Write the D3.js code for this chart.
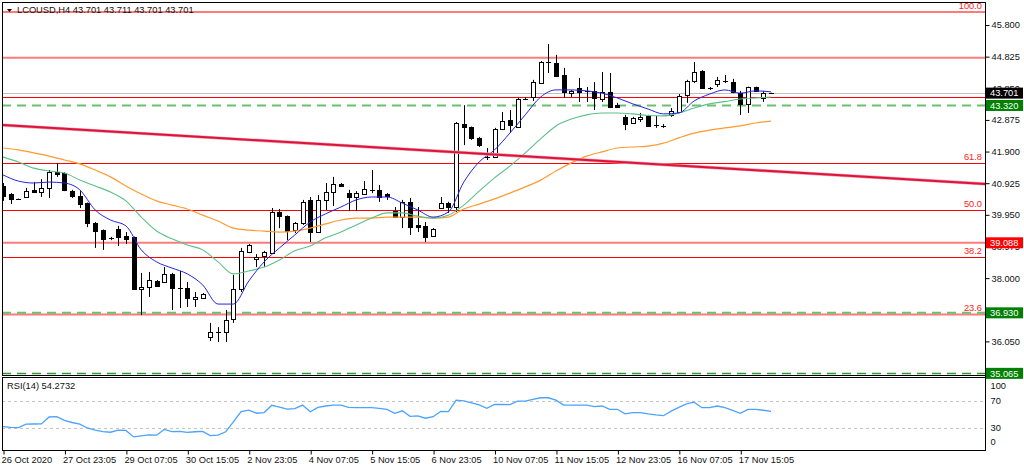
<!DOCTYPE html>
<html><head><meta charset="utf-8">
<script src="https://cdn.jsdelivr.net/npm/d3@7"></script>
<style>
body{margin:0;background:#fff;}
text{font-family:"Liberation Sans",Arial,sans-serif;font-size:9.3px;}
</style>
</head><body><svg id="c" width="1024" height="470"></svg>
<script>
// ---------------- DATA ----------------
const symbolTitle = "LCOUSD,H4  43.701 43.711 43.701 43.701";
const rsiTitle = "RSI(14) 54.2732";
const timeLabels = ["26 Oct 2020","27 Oct 23:05","29 Oct 07:05","30 Oct 15:05","2 Nov 23:05","4 Nov 07:05","5 Nov 15:05","6 Nov 23:05","10 Nov 07:05","11 Nov 15:05","12 Nov 23:05","16 Nov 07:05","17 Nov 15:05"];
const timeLabelBars = [0,8,16,24,32,40,48,56,64,72,80,88,96];
const priceTicks = [45.800,44.825,43.850,42.875,41.900,40.925,39.950,38.975,38.000,36.050];
const rsiTicks = [100,70,30,0];
const rsiLevels = [70,30];

const open = [
40.84,40.59,40.44,40.50,40.72,40.65,40.78,41.27,41.24,40.68,
40.53,40.31,39.70,39.48,39.24,39.51,39.30,39.27,37.66,37.73,
37.91,37.88,38.13,37.69,37.69,37.36,37.39,36.18,36.34,36.34,
36.74,37.66,38.80,38.59,38.68,38.77,40.04,39.91,39.48,39.70,
40.41,39.42,40.41,40.65,40.90,40.62,40.50,40.59,40.72,40.72,
40.59,40.07,39.88,40.35,39.64,39.61,39.30,40.16,40.31,40.19,
42.75,42.66,42.32,41.73,41.73,42.60,42.87,42.66,43.52,43.58,
44.01,44.66,44.63,44.26,43.70,43.86,43.77,43.77,43.52,43.74,
43.33,42.97,42.78,42.90,43.00,42.72,42.69,43.03,43.12,43.64,
44.07,44.38,43.86,43.98,44.07,44.04,43.70,43.37,43.89,43.55,
43.701];
const high = [
40.93,40.62,40.45,40.78,40.96,41.05,41.33,41.55,41.26,40.72,
40.68,40.33,39.73,39.50,39.27,39.61,39.42,39.28,38.16,38.19,
37.94,38.34,38.16,38.22,37.88,37.57,37.54,36.62,36.49,37.02,
38.10,38.93,39.05,38.74,38.84,40.16,40.13,39.93,39.73,40.41,
40.50,40.56,40.93,41.12,40.93,40.72,40.68,40.99,41.33,40.87,
40.62,40.19,40.41,40.47,40.19,39.73,39.54,40.50,40.35,42.81,
43.33,42.67,42.35,42.01,42.63,43.12,43.18,43.55,43.58,44.11,
44.69,45.21,44.88,44.48,43.80,44.17,43.89,44.04,44.35,44.32,
43.40,43.03,42.97,43.09,43.03,43.00,42.75,43.24,43.67,44.11,
44.66,44.41,43.89,44.20,44.26,44.14,43.77,43.90,43.90,43.77,
43.711];
const low = [
40.38,40.28,40.42,40.48,40.63,40.50,40.47,41.12,40.68,40.47,
40.16,39.57,38.93,38.87,39.17,38.99,39.05,37.64,36.86,37.42,
37.73,37.85,37.02,37.08,37.11,37.11,37.36,36.06,36.03,36.03,
36.62,37.57,38.77,38.34,38.34,38.76,39.54,39.17,39.39,39.64,
39.11,39.39,40.10,40.22,40.81,40.07,40.07,40.56,40.62,40.35,
40.41,39.85,39.54,39.33,39.42,39.11,39.27,40.13,40.01,40.04,
42.10,42.26,42.04,41.64,41.70,42.56,42.47,42.63,43.49,43.46,
43.99,44.32,44.20,43.55,43.58,43.43,43.43,43.18,43.43,43.24,
43.26,42.56,42.75,42.81,42.66,42.63,42.63,42.97,43.09,43.40,
44.01,43.83,43.80,43.89,44.01,43.70,43.03,43.09,43.74,43.43,
43.701];
const close = [
40.53,40.44,40.44,40.68,40.65,40.78,41.27,41.21,40.72,40.53,
40.28,39.70,39.45,39.21,39.22,39.27,39.21,37.66,37.73,37.94,
37.76,38.13,37.69,37.70,37.39,37.42,37.51,36.34,36.35,36.71,
37.66,38.84,39.02,38.65,38.80,40.04,39.91,39.45,39.70,40.35,
39.42,40.41,40.65,40.90,40.84,40.50,40.62,40.75,40.70,40.50,
40.53,39.88,40.35,39.57,39.57,39.27,39.51,40.31,40.19,42.78,
42.66,42.32,42.10,41.74,42.60,42.84,42.72,43.52,43.53,44.04,
44.66,44.65,44.23,43.74,43.77,43.74,43.76,43.55,43.74,43.27,
43.27,42.75,42.93,42.97,42.69,42.71,42.69,43.15,43.61,44.07,
44.35,43.86,43.85,44.11,44.07,43.74,43.37,43.89,43.77,43.70,
43.701];

// moving averages, read every 2 bars (bars 0,2,...,100)
const maBars = d3.range(0,101,2);
const maFast = [41.18,40.99,40.93,40.96,40.93,40.72,40.10,39.79,39.61,38.87,38.50,38.31,38.13,37.79,37.20,37.20,37.91,38.50,38.93,39.33,39.73,39.98,40.19,40.41,40.50,40.50,40.31,40.10,39.88,40.04,40.96,41.58,41.95,42.47,43.03,43.58,43.80,43.80,43.77,43.70,43.55,43.37,43.21,43.06,43.09,43.46,43.67,43.80,43.70,43.77,43.74];
const maMid  = [41.73,41.58,41.39,41.30,41.24,41.02,40.84,40.65,40.38,39.88,39.45,39.21,39.02,38.87,38.50,38.13,38.22,38.34,38.56,38.84,38.99,39.24,39.42,39.64,39.85,40.01,40.01,39.91,39.85,39.94,40.25,40.68,41.09,41.45,41.86,42.29,42.69,42.90,43.03,43.09,43.09,43.06,43.01,43.00,43.09,43.24,43.37,43.44,43.52,43.55,43.58];
const maSlow = [42.01,41.95,41.86,41.76,41.64,41.52,41.33,41.12,40.84,40.59,40.38,40.25,40.13,39.94,39.76,39.54,39.48,39.45,39.42,39.45,39.54,39.67,39.79,39.85,39.85,39.88,39.88,39.88,39.85,39.88,40.13,40.28,40.44,40.62,40.81,41.02,41.30,41.55,41.76,41.89,42.01,42.04,42.07,42.16,42.32,42.47,42.56,42.63,42.69,42.78,42.84];

const rsi = [32,31,30.5,35.5,35.8,36,46,46.4,41,38,
35.5,30,27,24.8,23.8,27,26.5,17,18.5,20,
19.5,28,24.8,25,23.5,24.5,25,18.8,19.5,24.5,
39,54,56,51.5,52.5,63,60.5,57.6,58.3,63.4,
53.7,60,62,63.4,63.4,60,59.5,59.5,59.5,58.5,
57,51.3,55,47,47.6,44.2,46.4,54,53.7,70.5,
69.5,66.5,63.5,58.6,64.2,64.4,64,69.2,69.2,71.5,
74,74,70.5,63.4,63.4,63.4,63.4,61,62,57.2,
57.2,50.5,52.3,52.3,50.5,49,47.9,54.5,60,65,
67.5,59.5,59.5,62,59.5,55.5,51.3,57.2,57.2,55.8,
54.27];

// trend line (bar index, price)
const trendBars = [0,128];
const trendPrices = [42.716,40.90];

// Fibonacci retracement
const fibHigh = 46.20, fibLow = 34.00;
const fibLevels = [100.0,61.8,50.0,38.2,23.6];
// horizontal levels
const resistanceLevels = [46.20,44.79,39.088,36.88];
const thinRedLevels = [43.57];
const greenDashLevels = [43.320,36.930];
const greenDashDarkLevels = [35.065];
const bidPrice = 43.701;
const priceTags = [
  {v:43.701, label:"43.701", color:"#000000"},
  {v:43.320, label:"43.320", color:"#008000"},
  {v:39.088, label:"39.088", color:"#ff0000"},
  {v:36.930, label:"36.930", color:"#008000"},
  {v:35.065, label:"35.065", color:"#008000"}
];

// ---------------- LAYOUT ----------------
const svg = d3.select("#c");
const PL=2, PR=985, PT=2, PB=375, RT=377, RB=450;
const x = d3.scaleLinear().domain([0,100]).range([3,771]);
const y = d3.scaleLinear().domain([35.065,45.8]).range([373.35,25]);
const yr = d3.scaleLinear().domain([0,100]).range([448.6,379.9]);

svg.append("rect").attr("width",1024).attr("height",470).attr("fill","#fff");

const defs = svg.append("defs");
defs.append("clipPath").attr("id","mainclip").append("rect")
  .attr("x",PL+1).attr("y",PT+1).attr("width",PR-PL-1).attr("height",PB-PT-1);
defs.append("clipPath").attr("id","rsiclip").append("rect")
  .attr("x",PL+1).attr("y",RT+1).attr("width",PR-PL-1).attr("height",RB-RT-1);

const main = svg.append("g").attr("clip-path","url(#mainclip)");
const crisp = v => Math.round(v)+0.5;

// horizontal levels
main.selectAll(".bid").data([bidPrice]).join("line")
  .attr("x1",PL).attr("x2",PR).attr("y1",d=>crisp(y(d))).attr("y2",d=>crisp(y(d)))
  .attr("stroke","#c0c0c0").attr("stroke-width",1);
main.selectAll(".res").data(resistanceLevels).join("line")
  .attr("x1",PL).attr("x2",PR).attr("y1",d=>y(d)).attr("y2",d=>y(d))
  .attr("stroke","#ff7b7b").attr("stroke-width",2);
main.selectAll(".thin").data(thinRedLevels).join("line")
  .attr("x1",PL).attr("x2",PR).attr("y1",d=>crisp(y(d))).attr("y2",d=>crisp(y(d)))
  .attr("stroke","#ff0000").attr("stroke-width",1);
const fibPrice = r => fibLow + r/100*(fibHigh-fibLow);
main.selectAll(".fib").data(fibLevels.filter(r=>r>24&&r<99)).join("line")
  .attr("x1",PL).attr("x2",PR).attr("y1",d=>crisp(y(fibPrice(d)))).attr("y2",d=>crisp(y(fibPrice(d))))
  .attr("stroke","#ff0000").attr("stroke-width",1);
main.selectAll(".gd").data(greenDashLevels).join("line")
  .attr("x1",PL).attr("x2",PR).attr("y1",d=>y(d)).attr("y2",d=>y(d))
  .attr("stroke","#6cbf6c").attr("stroke-width",2).attr("stroke-dasharray","9,6");
main.selectAll(".gdd").data(greenDashDarkLevels).join("line")
  .attr("x1",PL).attr("x2",PR).attr("y1",d=>crisp(y(d))).attr("y2",d=>crisp(y(d)))
  .attr("stroke","#2e9a2e").attr("stroke-width",1.3).attr("stroke-dasharray","9,6");
main.selectAll(".fibt").data(fibLevels).join("text")
  .attr("x",982).attr("y",d=>y(fibPrice(d))-3).attr("text-anchor","end")
  .attr("fill","#ff2020").text(d=>d.toFixed(1));

// candles
const bars = d3.range(open.length);
const cg = main.append("g");
bars.forEach(i=>{
  const cx = crisp(x(i));
  cg.append("line").attr("x1",cx).attr("x2",cx)
    .attr("y1",y(high[i])).attr("y2",y(low[i])).attr("stroke","#000").attr("stroke-width",1);
  const yo=y(open[i]), yc=y(close[i]);
  const top=Math.min(yo,yc), h=Math.abs(yo-yc);
  if (h<1.2) {
    cg.append("line").attr("x1",cx-2.5).attr("x2",cx+2.5)
      .attr("y1",crisp(top)).attr("y2",crisp(top)).attr("stroke","#000");
  } else {
    cg.append("rect").attr("x",cx-2).attr("y",Math.round(top)+0.5)
      .attr("width",4).attr("height",Math.max(1,Math.round(h)))
      .attr("fill",close[i]>=open[i]?"#fff":"#000").attr("stroke","#000").attr("stroke-width",1);
  }
});

// moving averages
const maLine = d3.line().x((d,i)=>x(maBars[i])).y(d=>y(d)).curve(d3.curveMonotoneX);
main.append("path").attr("d",maLine(maSlow)).attr("fill","none").attr("stroke","#ff9a30").attr("stroke-width",1.2);
main.append("path").attr("d",maLine(maMid)).attr("fill","none").attr("stroke","#5cc08a").attr("stroke-width",1.1);
main.append("path").attr("d",maLine(maFast)).attr("fill","none").attr("stroke","#2424e0").attr("stroke-width",1);

// trend line
const tl = d3.line().x((d,i)=>x(trendBars[i])).y(d=>y(d));
main.append("path").attr("d",tl(trendPrices)).attr("fill","none").attr("stroke","#f59aaa").attr("stroke-width",3.2);
main.append("path").attr("d",tl(trendPrices)).attr("fill","none").attr("stroke","#dc143c").attr("stroke-width",2);

// RSI panel
const rg = svg.append("g").attr("clip-path","url(#rsiclip)");
rg.selectAll(".lvl").data(rsiLevels).join("line")
  .attr("x1",PL).attr("x2",PR).attr("y1",d=>crisp(yr(d))).attr("y2",d=>crisp(yr(d)))
  .attr("stroke","#c4c4c4").attr("stroke-dasharray","3,3");
const rl = d3.line().x((d,i)=>x(i)).y(d=>yr(d));
rg.append("path").attr("d",rl(rsi)).attr("fill","none").attr("stroke","#4aa3ff").attr("stroke-width",1.3);

// frames
const frame = svg.append("g").attr("fill","none").attr("stroke","#000");
frame.append("rect").attr("x",PL+0.5).attr("y",PT+0.5).attr("width",PR-PL).attr("height",PB-PT);
frame.append("rect").attr("x",PL+0.5).attr("y",RT+0.5).attr("width",PR-PL).attr("height",RB-RT);

// price axis
const pa = svg.append("g").attr("transform",`translate(${PR+0.5},0)`)
  .call(d3.axisRight(y).tickValues(priceTicks).tickFormat(d3.format(".3f")).tickSize(4).tickPadding(2));
pa.select(".domain").remove();
pa.selectAll("text").attr("fill","#111").style("font-size","9.3px").attr("font-family","Liberation Sans, Arial");
pa.selectAll("line").attr("stroke","#000");

// price tags
const tags = svg.append("g");
priceTags.forEach(t=>{
  const yy=y(t.v);
  tags.append("rect").attr("x",PR+1).attr("y",yy-5.5).attr("width",37).attr("height",11).attr("fill",t.color);
  tags.append("text").attr("x",PR+5).attr("y",yy+3.3).attr("fill","#fff").text(t.label);
});

// rsi axis
const ra = svg.append("g").attr("transform",`translate(${PR+0.5},0)`)
  .call(d3.axisRight(yr).tickValues(rsiTicks).tickSize(0).tickPadding(5));
ra.select(".domain").remove();
ra.selectAll("text").attr("fill","#111").style("font-size","9.3px").attr("font-family","Liberation Sans, Arial")
  .attr("dy",d=>d===100?"0.9em":(d===0?"-0.4em":"0.32em"));

// right vertical separator
svg.append("line").attr("x1",PR+0.5).attr("x2",PR+0.5).attr("y1",PT).attr("y2",RB+1).attr("stroke","#000");

// time axis
const ta = svg.append("g").attr("transform",`translate(0,${RB+0.5})`)
  .call(d3.axisBottom(x).tickValues(timeLabelBars).tickFormat((d,i)=>timeLabels[i]).tickSize(4).tickPadding(2));
ta.select(".domain").remove();
ta.selectAll("line").attr("stroke","#000").attr("transform","translate(0.5,0)");
ta.selectAll("text").attr("fill","#111").style("font-size","9.3px").attr("font-family","Liberation Sans, Arial")
  .attr("text-anchor","start").attr("dx","-2");

// titles
svg.append("path").attr("d","M7,9 L12,9 L9.5,12 Z").attr("fill","#000");
svg.append("text").attr("x",17).attr("y",13).attr("fill","#111").text(symbolTitle);
svg.append("text").attr("x",7).attr("y",389).attr("fill","#111").text(rsiTitle);
</script></body></html>
